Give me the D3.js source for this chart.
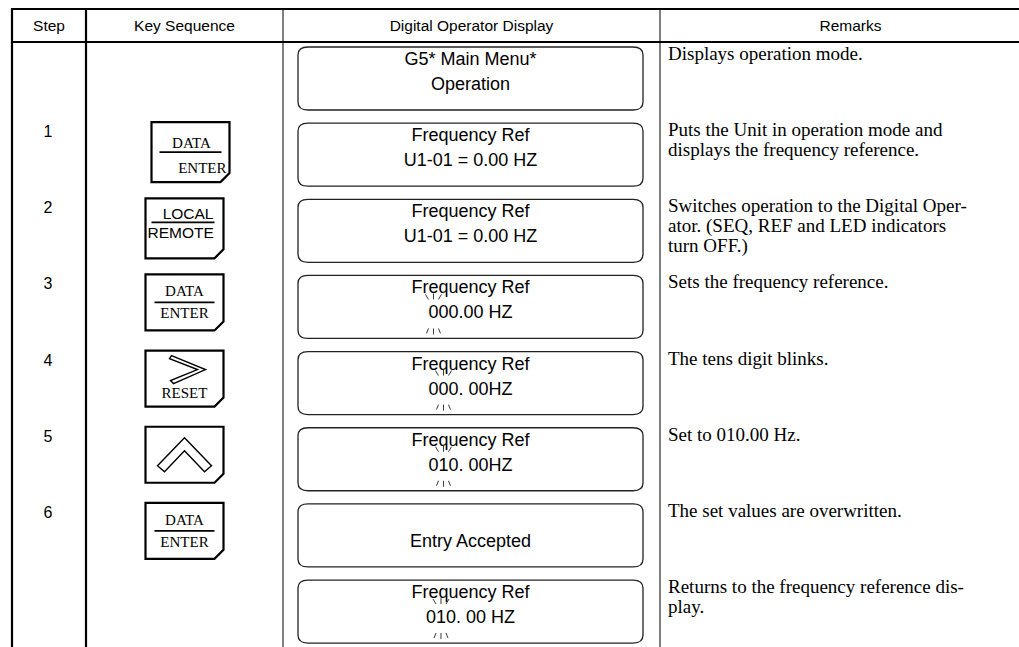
<!DOCTYPE html>
<html><head><meta charset="utf-8">
<script src="https://cdn.jsdelivr.net/npm/d3@7"></script>
<style>html,body{margin:0;padding:0;background:#fff;overflow:hidden}</style>
</head><body><svg id="c" width="1019" height="647"></svg>
<script>
// ---------- data ----------
const headers = ["Step", "Key Sequence", "Digital Operator Display", "Remarks"];
const steps = ["", "1", "2", "3", "4", "5", "6", ""];
const keys = ["", "DATA/ENTER", "LOCAL/REMOTE", "DATA/ENTER", "RESET", "UP", "DATA/ENTER", ""];
const displayLine1 = ["G5* Main Menu*", "Frequency Ref", "Frequency Ref", "Frequency Ref", "Frequency Ref", "Frequency Ref", "", "Frequency Ref"];
const displayLine2 = ["Operation", "U1-01 = 0.00 HZ", "U1-01 = 0.00 HZ", "000.00 HZ", "000. 00HZ", "010. 00HZ", "Entry Accepted", "010. 00 HZ"];
const blinkDigit = [-1, -1, -1, 0, 1, 1, -1, 1];
const remarks = [
  ["Displays operation mode."],
  ["Puts the Unit in operation mode and", "displays the frequency reference."],
  ["Switches operation to the Digital Oper-", "ator. (SEQ, REF and LED indicators", "turn OFF.)"],
  ["Sets the frequency reference."],
  ["The tens digit blinks."],
  ["Set to 010.00 Hz."],
  ["The set values are overwritten."],
  ["Returns to the frequency reference dis-", "play."]
];

// ---------- layout ----------
const W = 1019, H = 647;
const SANS = "'Liberation Sans', Arial, Helvetica, sans-serif";
const SERIF = "'Liberation Serif', 'Times New Roman', Times, serif";
const colEdges = [12, 86, 283, 660, 1041];
const colCenter = i => (colEdges[i] + colEdges[i + 1]) / 2;
const rows = d3.range(steps.length);
const y = d3.scaleLinear().domain([0, rows.length]).range([47, 47 + rows.length * 76.15]);
const boxX = 298, boxW = 345, boxH = 63;

const svg = d3.select("#c");
svg.append("rect").attr("width", W).attr("height", H).attr("fill", "#fff");

// grid lines
const g = svg.append("g").attr("stroke", "#000").attr("fill", "none");
g.append("line").attr("x1", 11).attr("x2", W).attr("y1", 9).attr("y2", 9).attr("stroke-width", 2.2);
g.append("line").attr("x1", 11).attr("x2", W).attr("y1", 42).attr("y2", 42).attr("stroke-width", 2.2);
g.append("line").attr("x1", colEdges[0]).attr("x2", colEdges[0]).attr("y1", 8).attr("y2", H).attr("stroke-width", 2.2);
g.append("line").attr("x1", colEdges[1]).attr("x2", colEdges[1]).attr("y1", 8).attr("y2", H).attr("stroke-width", 2.2);
g.append("line").attr("x1", colEdges[2]).attr("x2", colEdges[2]).attr("y1", 9).attr("y2", H).attr("stroke-width", 1);
g.append("line").attr("x1", colEdges[3]).attr("x2", colEdges[3]).attr("y1", 9).attr("y2", H).attr("stroke-width", 1);

// headers
svg.append("g").selectAll("text").data(headers).join("text")
  .attr("x", (d, i) => colCenter(i)).attr("y", 31)
  .attr("text-anchor", "middle").attr("font-family", SANS).attr("font-size", 15.5).attr("fill", "#000")
  .text(d => d);

// step numbers
svg.append("g").selectAll("text").data(rows.filter(i => steps[i])).join("text")
  .attr("x", colCenter(0) - 1).attr("y", i => y(i) + 14)
  .attr("text-anchor", "middle").attr("font-family", SANS).attr("font-size", 16).attr("fill", "#000")
  .text(i => steps[i]);

// display boxes
function boxPath(x0, y0, w, h) {
  const rx = 10, ry = 8;
  return `M${x0 + rx},${y0} H${x0 + w - rx} Q${x0 + w},${y0} ${x0 + w},${y0 + ry} V${y0 + h - ry} Q${x0 + w},${y0 + h} ${x0 + w - rx},${y0 + h} H${x0 + rx} Q${x0},${y0 + h} ${x0},${y0 + h - ry} V${y0 + ry} Q${x0},${y0} ${x0 + rx},${y0} Z`;
}
svg.append("g").selectAll("path").data(rows).join("path")
  .attr("d", i => boxPath(boxX, y(i), boxW, boxH))
  .attr("fill", "none").attr("stroke", "#222").attr("stroke-width", 1.3);

const dcx = boxX + boxW / 2;
const dispFont = 18;
svg.append("g").selectAll("text").data(rows.filter(i => displayLine1[i])).join("text")
  .attr("x", dcx).attr("y", i => y(i) + 18)
  .attr("text-anchor", "middle").attr("font-family", SANS).attr("font-size", dispFont).attr("fill", "#000")
  .text(i => displayLine1[i]);
svg.append("g").selectAll("text").data(rows).join("text")
  .attr("x", dcx).attr("y", i => y(i) + 43)
  .attr("text-anchor", "middle").attr("font-family", SANS).attr("font-size", dispFont).attr("fill", "#000")
  .text(i => displayLine2[i]);

// blink marks
const measure = svg.append("text").attr("font-family", SANS).attr("font-size", dispFont).attr("visibility", "hidden");
function tw(s) { measure.text(s); return measure.node().getComputedTextLength(); }
const mg = svg.append("g").attr("stroke", "#222").attr("stroke-width", 0.9);
rows.filter(i => blinkDigit[i] >= 0).forEach(i => {
  const s = displayLine2[i], k = blinkDigit[i];
  const total = tw(s);
  const cx = dcx - total / 2 + tw(s.slice(0, k)) + tw(s[k]) / 2;
  const top = y(i) + 18, bot = y(i) + 53;
  // above: \ | /
  mg.append("line").attr("x1", cx - 8).attr("y1", top + 1).attr("x2", cx - 5).attr("y2", top + 6);
  mg.append("line").attr("x1", cx).attr("y1", top).attr("x2", cx).attr("y2", top + 6);
  mg.append("line").attr("x1", cx + 8).attr("y1", top + 1).attr("x2", cx + 5).attr("y2", top + 6);
  // below: / | \
  mg.append("line").attr("x1", cx - 5).attr("y1", bot).attr("x2", cx - 7).attr("y2", bot + 5);
  mg.append("line").attr("x1", cx).attr("y1", bot).attr("x2", cx).attr("y2", bot + 6);
  mg.append("line").attr("x1", cx + 5).attr("y1", bot).attr("x2", cx + 7).attr("y2", bot + 5);
});
measure.remove();

// keys
const keyW = 78;
function keyPath(x0, y0, w, h) {
  const c = 9;
  return `M${x0},${y0} H${x0 + w} V${y0 + h - c} L${x0 + w - c},${y0 + h} H${x0} Z`;
}
const kg = svg.append("g");
rows.filter(i => keys[i]).forEach(i => {
  const type = keys[i];
  const first = i === 1;
  const kx = colCenter(1) - keyW / 2 + (first ? 6 : 0);
  const ky = y(i) - 1;
  const kh = (i <= 2) ? 60 : 56;
  const k = kg.append("g");
  k.append("path").attr("d", keyPath(kx, ky, keyW, kh)).attr("fill", "#fff").attr("stroke", "#000").attr("stroke-width", 2.2);
  const mid = kx + keyW / 2;
  if (type === "DATA/ENTER") {
    if (first) {
      k.append("text").attr("x", mid + 1).attr("y", ky + 26).attr("text-anchor", "middle").attr("font-family", SERIF).attr("font-size", 15).text("DATA");
      k.append("line").attr("x1", kx + 8).attr("x2", kx + keyW - 8).attr("y1", ky + 30).attr("y2", ky + 30).attr("stroke", "#000").attr("stroke-width", 1.8);
      k.append("text").attr("x", kx + keyW - 3).attr("y", ky + 51).attr("text-anchor", "end").attr("font-family", SERIF).attr("font-size", 15).text("ENTER");
    } else {
      k.append("text").attr("x", mid).attr("y", ky + 22).attr("text-anchor", "middle").attr("font-family", SERIF).attr("font-size", 15).text("DATA");
      k.append("line").attr("x1", kx + 9).attr("x2", kx + keyW - 9).attr("y1", ky + 28).attr("y2", ky + 28).attr("stroke", "#000").attr("stroke-width", 1.8);
      k.append("text").attr("x", mid).attr("y", ky + 44).attr("text-anchor", "middle").attr("font-family", SERIF).attr("font-size", 15).text("ENTER");
    }
  } else if (type === "LOCAL/REMOTE") {
    k.append("text").attr("x", kx + keyW - 10).attr("y", ky + 21).attr("text-anchor", "end").attr("font-family", SANS).attr("font-size", 15.5).text("LOCAL");
    k.append("line").attr("x1", kx + 6).attr("x2", kx + keyW - 9).attr("y1", ky + 24).attr("y2", ky + 24).attr("stroke", "#000").attr("stroke-width", 1.8);
    k.append("text").attr("x", kx + 2).attr("y", ky + 40).attr("font-family", SANS).attr("font-size", 15.5).text("REMOTE");
  } else if (type === "RESET") {
    const pts = [[26, 5], [60, 19], [28, 33], [25, 30], [52, 19], [24, 8]];
    k.append("polygon").attr("points", pts.map(p => [kx + p[0], ky + p[1]].join(",")).join(" "))
      .attr("fill", "#fff").attr("stroke", "#000").attr("stroke-width", 1.4).attr("stroke-linejoin", "miter");
    k.append("text").attr("x", mid).attr("y", ky + 47).attr("text-anchor", "middle").attr("font-family", SERIF).attr("font-size", 15).text("RESET");
  } else if (type === "UP") {
    const pts = [[39, 11], [66, 39], [59, 45], [39, 24], [19, 45], [12, 39]];
    k.append("polygon").attr("points", pts.map(p => [kx + p[0], ky + p[1]].join(",")).join(" "))
      .attr("fill", "#fff").attr("stroke", "#000").attr("stroke-width", 1.4);
  }
});

// remarks
const rg = svg.append("g").attr("font-family", SERIF).attr("font-size", 19).attr("fill", "#000");
rows.forEach(i => {
  rg.append("g").selectAll("text").data(remarks[i]).join("text")
    .attr("x", 668).attr("y", (d, j) => y(i) + 13 + j * 20)
    .text(d => d);
});
</script></body></html>
